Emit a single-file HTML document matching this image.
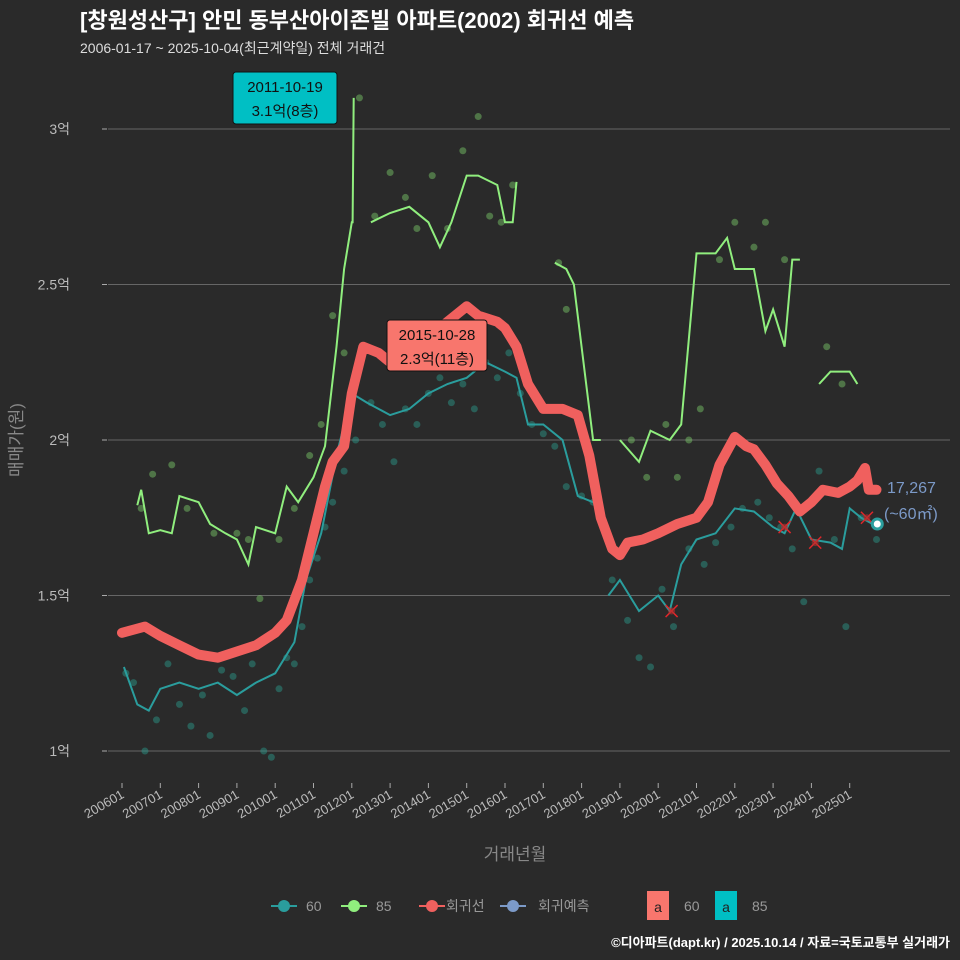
<!DOCTYPE html>
<html><head><meta charset="utf-8"><style>
body{margin:0;background:#2a2a2a;}
svg{display:block;font-family:"Liberation Sans","Noto Sans CJK KR",sans-serif;}
</style></head><body>
<svg id="c" width="960" height="960" viewBox="0 0 960 960">
<rect width="960" height="960" fill="#2a2a2a"/>
<text x="80" y="28" font-size="22" font-weight="bold" fill="#fff">[창원성산구] 안민 동부산아이존빌 아파트(2002) 회귀선 예측</text>
<text x="80" y="53" font-size="14" fill="#ddd">2006-01-17 ~ 2025-10-04(최근계약일) 전체 거래건</text>
<g id="grid"></g><g id="pts"></g><g id="lines"></g><g id="marks"></g><g id="axes"></g>
<text x="515" y="860" font-size="17" fill="#888" text-anchor="middle">거래년월</text>
<text transform="translate(22,440) rotate(-90)" font-size="17" fill="#888" text-anchor="middle">매매가(원)</text>
<g id="legend" font-size="14" fill="#999">
<g><line x1="271" x2="297" y1="906" y2="906" stroke="#2a9d9d" stroke-width="2"/><circle cx="284" cy="906" r="6" fill="#2a9d9d"/><text x="306" y="911">60</text></g>
<g><line x1="341" x2="367" y1="906" y2="906" stroke="#90ee7e" stroke-width="2"/><circle cx="354" cy="906" r="6" fill="#90ee7e"/><text x="376" y="911">85</text></g>
<g><line x1="419" x2="445" y1="906" y2="906" stroke="#f0605e" stroke-width="2"/><circle cx="432" cy="906" r="6" fill="#f0605e"/><text x="446" y="911">회귀선</text></g>
<g><line x1="500" x2="526" y1="906" y2="906" stroke="#7c9ac8" stroke-width="2"/><circle cx="513" cy="906" r="6" fill="#7c9ac8"/><text x="538" y="911">회귀예측</text></g>
<g><rect x="647" y="891" width="22" height="29" fill="#f8766d"/><text x="658" y="912" fill="#222" text-anchor="middle">a</text><text x="684" y="911">60</text></g>
<g><rect x="715" y="891" width="22" height="29" fill="#00bfc4"/><text x="726" y="912" fill="#222" text-anchor="middle">a</text><text x="752" y="911">85</text></g>
</g>
<text x="950" y="947" font-size="13" font-weight="bold" fill="#fff" text-anchor="end">©디아파트(dapt.kr) / 2025.10.14 / 자료=국토교통부 실거래가</text>
</svg>
<script>
const yTicks=[1,1.5,2,2.5,3];
const yTickLabels=["1억","1.5억","2억","2.5억","3억"];
const xTickYears=[2006,2007,2008,2009,2010,2011,2012,2013,2014,2015,2016,2017,2018,2019,2020,2021,2022,2023,2024,2025];
const xTickLabels=["200601","200701","200801","200901","201001","201101","201201","201301","201401","201501","201601","201701","201801","201901","202001","202101","202201","202301","202401","202501"];
const regT=[2006.0,2006.3,2006.6,2007,2007.5,2008,2008.5,2009,2009.5,2010,2010.3,2010.7,2011.0,2011.3,2011.5,2011.8,2012.0,2012.3,2012.7,2013.0,2013.5,2014.0,2014.5,2015.0,2015.3,2015.8,2016.0,2016.3,2016.6,2017.0,2017.5,2017.9,2018.2,2018.5,2018.8,2019.0,2019.2,2019.6,2020.0,2020.5,2021.0,2021.3,2021.6,2022.0,2022.3,2022.5,2022.8,2023.1,2023.4,2023.7,2024.0,2024.3,2024.7,2025.0,2025.2,2025.4,2025.5,2025.7];
const regV=[1.38,1.39,1.40,1.37,1.34,1.31,1.30,1.32,1.34,1.38,1.42,1.55,1.70,1.85,1.93,1.98,2.15,2.30,2.28,2.25,2.30,2.33,2.38,2.43,2.40,2.38,2.36,2.30,2.18,2.10,2.10,2.08,1.95,1.75,1.65,1.63,1.67,1.68,1.70,1.73,1.75,1.80,1.92,2.01,1.98,1.97,1.92,1.86,1.82,1.77,1.80,1.84,1.83,1.85,1.87,1.91,1.84,1.84];
const s60T=[[2006.05,2006.4,2006.7,2007,2007.5,2008,2008.5,2009,2009.5,2010,2010.5,2010.8,2011.2,2011.6,2012.0,2012.4,2013,2013.5,2014,2014.5,2015,2015.5,2016,2016.3,2016.6,2017,2017.5,2017.9,2018.3],[2018.7,2019,2019.5,2020,2020.3,2020.6,2021,2021.5,2022,2022.5,2023,2023.3,2023.6,2024,2024.5,2024.8,2025.0,2025.3,2025.6]];
const s60V=[[1.27,1.15,1.13,1.20,1.22,1.20,1.22,1.18,1.22,1.25,1.35,1.55,1.70,1.95,2.15,2.12,2.08,2.10,2.15,2.18,2.20,2.25,2.22,2.20,2.05,2.05,2.00,1.82,1.80],[1.50,1.55,1.45,1.50,1.45,1.60,1.68,1.70,1.78,1.77,1.72,1.70,1.78,1.68,1.67,1.65,1.78,1.75,1.73]];
const s85T=[[2006.4,2006.5,2006.7,2007,2007.3,2007.5,2008,2008.3,2008.7,2009,2009.3,2009.5,2010,2010.3,2010.6,2011,2011.3,2011.6,2011.8,2012.0,2012.02,2012.05],[2012.5,2013,2013.5,2014,2014.3,2014.6,2015,2015.3,2015.8,2016.0,2016.2,2016.3],[2017.3,2017.6,2017.8,2018.1,2018.3,2018.5],[2019.0,2019.5,2019.8,2020.3,2020.6,2021.0,2021.5,2021.8,2022.0,2022.5,2022.8,2023.0,2023.3,2023.5,2023.7],[2024.2,2024.5,2025.0,2025.2]];
const s85V=[[1.79,1.84,1.70,1.71,1.70,1.82,1.80,1.73,1.70,1.68,1.60,1.72,1.70,1.85,1.80,1.88,1.98,2.30,2.55,2.70,2.70,3.10],[2.70,2.73,2.75,2.70,2.62,2.70,2.85,2.85,2.82,2.70,2.70,2.83],[2.57,2.55,2.50,2.20,2.00,2.00],[2.00,1.93,2.03,2.00,2.05,2.60,2.60,2.65,2.55,2.55,2.35,2.42,2.30,2.58,2.58],[2.18,2.22,2.22,2.18]];
const pt60T=[2006.1,2006.3,2006.6,2006.9,2007.2,2007.5,2007.8,2008.1,2008.3,2008.6,2008.9,2009.2,2009.4,2009.7,2009.9,2010.1,2010.3,2010.5,2010.7,2010.9,2011.1,2011.3,2011.5,2011.8,2012.1,2012.5,2012.8,2013.1,2013.4,2013.7,2014.0,2014.3,2014.6,2014.9,2015.2,2015.5,2015.8,2016.1,2016.4,2016.7,2017.0,2017.3,2017.6,2018.0,2018.3,2018.8,2019.2,2019.5,2019.8,2020.1,2020.4,2020.8,2021.2,2021.5,2021.9,2022.2,2022.6,2022.9,2023.2,2023.5,2023.8,2024.2,2024.6,2024.9,2025.3,2025.7];
const pt60V=[1.25,1.22,1.00,1.10,1.28,1.15,1.08,1.18,1.05,1.26,1.24,1.13,1.28,1.00,0.98,1.20,1.30,1.28,1.40,1.55,1.62,1.72,1.80,1.90,2.00,2.12,2.05,1.93,2.10,2.05,2.15,2.20,2.12,2.18,2.10,2.25,2.20,2.28,2.15,2.05,2.02,1.98,1.85,1.82,1.80,1.55,1.42,1.30,1.27,1.52,1.40,1.65,1.60,1.67,1.72,1.78,1.80,1.75,1.72,1.65,1.48,1.90,1.68,1.40,1.75,1.68];
const pt85T=[2006.5,2006.8,2007.3,2007.7,2008.4,2009.0,2009.3,2009.6,2010.1,2010.5,2010.9,2011.2,2011.5,2011.8,2012.2,2012.6,2013.0,2013.4,2013.7,2014.1,2014.5,2014.9,2015.3,2015.6,2015.9,2016.2,2017.4,2017.6,2019.3,2019.7,2020.2,2020.5,2020.8,2021.1,2021.6,2022.0,2022.5,2022.8,2023.3,2024.4,2024.8];
const pt85V=[1.78,1.89,1.92,1.78,1.70,1.70,1.68,1.49,1.68,1.78,1.95,2.05,2.40,2.28,3.10,2.72,2.86,2.78,2.68,2.85,2.68,2.93,3.04,2.72,2.70,2.82,2.57,2.42,2.00,1.88,2.05,1.88,2.00,2.10,2.58,2.70,2.62,2.70,2.58,2.30,2.18];
const xMarkT=[2020.35,2023.3,2024.1,2025.45];
const xMarkV=[1.45,1.72,1.67,1.75];
const lastT=2025.72,lastV=1.73;

const X=t=>122+(t-2006)*38.3;
const Y=v=>751-(v-1)*311;
const NS="http://www.w3.org/2000/svg";
function mk(tag,parent,attrs){const e=document.createElementNS(NS,tag);for(const k in attrs)e.setAttribute(k,attrs[k]);document.getElementById(parent).appendChild(e);return e;}
yTicks.forEach((v,i)=>{
 const l=mk('line','grid',{x1:108,x2:950,y1:Y(v),y2:Y(v),stroke:'#666','stroke-width':1});
 
 
 const t=mk('text','axes',{x:70,y:Y(v)+5,'font-size':14,fill:'#bbb','text-anchor':'end'});
 t.textContent=yTickLabels[i];
 
 
 mk('line','axes',{x1:102,x2:107,y1:Y(v),y2:Y(v),stroke:'#aaa'});
});
xTickYears.forEach((yr,i)=>{
 const x=X(yr);
 mk('line','axes',{x1:x,x2:x,y1:783,y2:788,stroke:'#aaa'});
 const t=mk('text','axes',{transform:`translate(${x+3},${797}) rotate(-30)`,'font-size':13,fill:'#bbb','text-anchor':'end'});
 t.textContent=xTickLabels[i];
 
 
});
pt60T.forEach((t,i)=>{const c=mk('circle','pts',{cx:X(t),cy:Y(pt60V[i]),r:3.5,fill:'#2a9d8f','fill-opacity':0.45});
 
 });
pt85T.forEach((t,i)=>{const c=mk('circle','pts',{cx:X(t),cy:Y(pt85V[i]),r:3.5,fill:'#7ccf6a','fill-opacity':0.45});
 
 });
function path(T,V){return T.map((t,i)=>(i?'L':'M')+X(t).toFixed(1)+','+Y(V[i]).toFixed(1)).join('');}
s85T.forEach((T,j)=>{const p=mk('path','lines',{d:path(T,s85V[j]),fill:'none',stroke:'#90ee7e','stroke-width':2});
 
 });
s60T.forEach((T,j)=>{const p=mk('path','lines',{d:path(T,s60V[j]),fill:'none',stroke:'#2a9d9d','stroke-width':2});
 
 });
const r=mk('path','lines',{d:path(regT,regV),fill:'none',stroke:'#f0605e','stroke-width':10,'stroke-linejoin':'round','stroke-linecap':'round'});


xMarkT.forEach((t,i)=>{const x=X(t),y=Y(xMarkV[i]);
 const g=mk('path','marks',{d:`M${x-6},${y-6}L${x+6},${y+6}M${x-6},${y+6}L${x+6},${y-6}`,stroke:'#e0262a','stroke-width':1.5});
 
 
 mk('circle','marks',{cx:x,cy:y,r:3.5,fill:'#b03030','fill-opacity':0.6});});
const lp=mk('circle','marks',{cx:X(lastT),cy:Y(lastV),r:5,fill:'#fff',stroke:'#2a9d9d','stroke-width':3});


let t1=mk('text','marks',{x:887,y:493,'font-size':16,fill:'#7c9ac8'});t1.textContent='17,267';


let t2=mk('text','marks',{x:884,y:519,'font-size':16,fill:'#7c9ac8'});t2.textContent='(~60㎡)';


function label(x,y,w,h,fill,a,b,name){
 const rr=mk('rect','marks',{x:x,y:y,width:w,height:h,rx:3,fill:fill,stroke:'#111','stroke-width':1});
 
 
 const ta=mk('text','marks',{x:x+w/2,y:y+20,'font-size':15,fill:'#111','text-anchor':'middle'});ta.textContent=a;
 const tb=mk('text','marks',{x:x+w/2,y:y+44,'font-size':15,fill:'#111','text-anchor':'middle'});tb.textContent=b;}
label(233,72,104,52,'#00bfc4','2011-10-19','3.1억(8층)','max-label-85');
label(387,320,100,51,'#f8766d','2015-10-28','2.3억(11층)','max-label-60');
</script>
</body></html>
